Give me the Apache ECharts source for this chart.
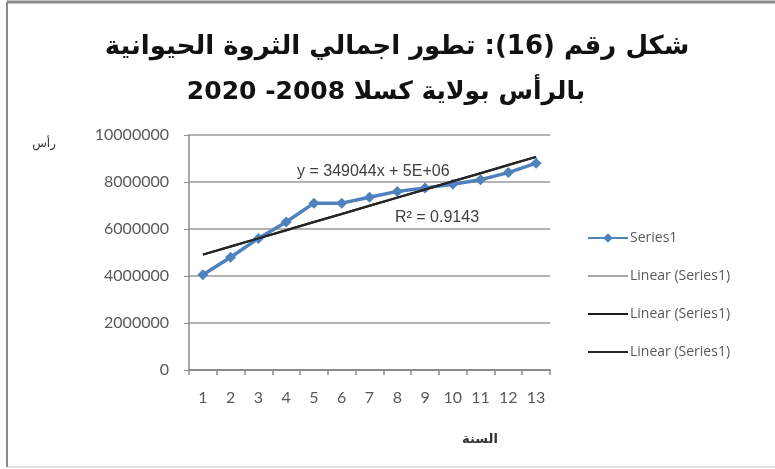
<!DOCTYPE html>
<html>
<head>
<meta charset="utf-8">
<script src="https://cdn.jsdelivr.net/npm/echarts@6/dist/echarts.min.js"></script>
<style>
html,body{margin:0;padding:0;background:#fff;}
#chart{width:775px;height:469px;}
</style>
</head>
<body>
<div id="chart"></div>
<script>
// Data
const categories = ['1','2','3','4','5','6','7','8','9','10','11','12','13'];
const series1 = [4050000, 4800000, 5600000, 6300000, 7100000, 7100000, 7350000, 7600000, 7750000, 7900000, 8100000, 8400000, 8800000];
const yTicks = [0, 2000000, 4000000, 6000000, 8000000, 10000000];
const titleLines = ['شكل رقم (16): تطور اجمالي الثروة الحيوانية', 'بالرأس بولاية كسلا 2008- 2020'];
const equationText = 'y = 349044x + 5E+06';
const r2Text = 'R² = 0.9143';
const legendNames = ['Series1', 'Linear (Series1)', 'Linear (Series1) ', 'Linear (Series1)  '];

// Least-squares linear trend from series1
function linearTrend(vals) {
  const n = vals.length;
  let sx = 0, sy = 0, sxy = 0, sxx = 0;
  vals.forEach((v, i) => { const x = i + 1; sx += x; sy += v; sxy += x * v; sxx += x * x; });
  const m = (n * sxy - sx * sy) / (n * sxx - sx * sx);
  const b = (sy - m * sx) / n;
  return vals.map((v, i) => m * (i + 1) + b);
}
const trend = linearTrend(series1);

const chart = echarts.init(document.getElementById('chart'));
const gray = '#595959';
chart.setOption({
  animation: false,
  backgroundColor: '#fff',
  textStyle: { fontFamily: 'Lato, "Open Sans", sans-serif' },
  grid: { left: 189, right: 225, top: 135, bottom: 99, containLabel: false },
  xAxis: {
    type: 'category',
    data: categories,
    boundaryGap: true,
    axisLine: { lineStyle: { color: '#8c8c8c', width: 2 } },
    axisTick: { show: true, length: 5, lineStyle: { color: '#8c8c8c', width: 1.5 } },
    axisLabel: { color: gray, fontSize: 16, margin: 20, fontFamily: 'Lato, sans-serif' }
  },
  yAxis: {
    type: 'value',
    min: 0, max: 10000000, interval: 2000000,
    axisLine: { show: true, lineStyle: { color: '#8c8c8c', width: 1.5 } },
    axisTick: { show: true, length: 5, lineStyle: { color: '#8c8c8c' } },
    axisLabel: { color: gray, fontSize: 16, margin: 20, fontFamily: 'Lato, sans-serif',
      formatter: v => yTicks.includes(v) ? String(v) : '' },
    splitLine: { show: true, lineStyle: { color: '#9a9a9a', width: 1.5 } }
  },
  legend: {
    orient: 'vertical',
    left: 582, top: 226,
    itemWidth: 40, itemHeight: 12,
    itemGap: 24,
    textStyle: { color: gray, fontSize: 14, fontFamily: '"Open Sans", sans-serif', padding: [0, 0, 0, -3] },
    data: legendNames.map((n, i) => i === 0 ? { name: n } : { name: n, itemStyle: { opacity: 0 } }),
    formatter: n => n.trim()
  },
  series: [
    { name: legendNames[1], type: 'line', data: trend, symbol: 'none', z: 1,
      lineStyle: { color: '#a6a6a6', width: 2.5 }, itemStyle: { color: '#a6a6a6' } },
    { name: legendNames[0], type: 'line', data: series1, symbol: 'diamond', symbolSize: 11, z: 3,
      lineStyle: { color: '#4f81bd', width: 3.5 }, itemStyle: { color: '#4f81bd' } },
    { name: legendNames[2], type: 'line', data: trend, symbol: 'none', z: 4,
      lineStyle: { color: '#1a1a1a', width: 2 }, itemStyle: { color: '#1a1a1a' } },
    { name: legendNames[3], type: 'line', data: trend, symbol: 'none', z: 4,
      lineStyle: { color: '#262626', width: 2 }, itemStyle: { color: '#262626' } }
  ],
  graphic: [
    { type: 'line', shape: { x1: 7, y1: 467, x2: 775, y2: 467 }, style: { stroke: '#c8c8c8', lineWidth: 1 } },
    { type: 'line', shape: { x1: 7, y1: 2, x2: 775, y2: 2 }, style: { stroke: '#8a8a8a', lineWidth: 3 } },
    { type: 'line', shape: { x1: 7, y1: 2, x2: 7, y2: 467 }, style: { stroke: '#8a8a8a', lineWidth: 2 } },
    { type: 'text', x: 397, y: 47, style: { text: titleLines[0], font: 'bold 26px "DejaVu Sans"', fill: '#111',
      align: 'center', verticalAlign: 'middle' } },
    { type: 'text', x: 386, y: 92, style: { text: titleLines[1], font: 'bold 25px "DejaVu Sans"', fill: '#111',
      align: 'center', verticalAlign: 'middle' } },
    { type: 'text', x: 297, y: 172, z: 10, style: { text: equationText, font: '16px "Liberation Sans"', fill: '#404040',
      verticalAlign: 'middle' } },
    { type: 'text', x: 395, y: 218, z: 10, style: { text: r2Text, font: '16px "Liberation Sans"', fill: '#404040',
      verticalAlign: 'middle' } },
    { type: 'text', x: 56, y: 144, style: { text: 'رأس', font: '12px "DejaVu Sans"', fill: '#333',
      align: 'right', verticalAlign: 'middle' } },
    { type: 'text', x: 480, y: 440, style: { text: 'السنة', font: 'bold 13px "DejaVu Sans"', fill: '#333',
      align: 'center', verticalAlign: 'middle' } }
  ]
});
</script>
</body>
</html>
